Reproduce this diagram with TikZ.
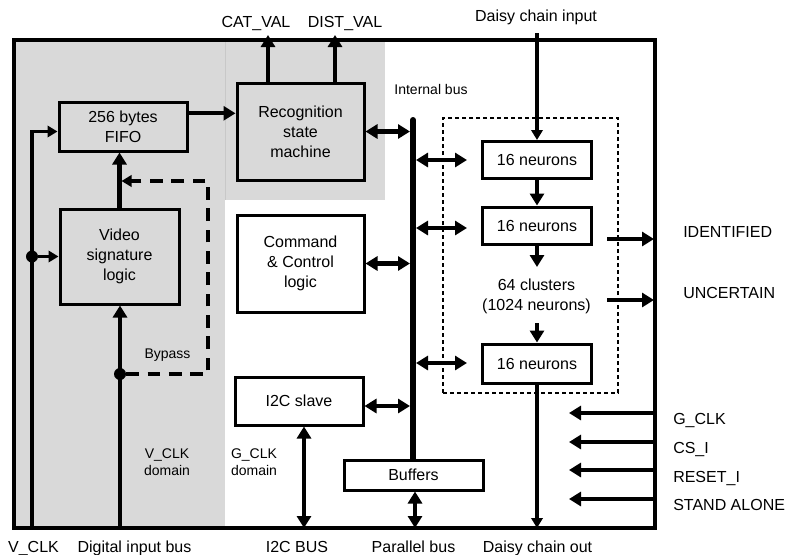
\documentclass[tikz,border=0pt]{standalone}
\usepackage{fontspec}
\setmainfont{Liberation Sans}
\usetikzlibrary{arrows.meta}
\definecolor{dgray}{RGB}{217,217,217}
\definecolor{seam}{RGB}{200,200,200}
\begin{document}
\begin{tikzpicture}[x=0.75pt,y=-0.75pt,
  box/.style={draw, line width=2.25pt, align=center, inner sep=0pt, font=\fontsize{12}{15}\selectfont},
  lbl/.style={font=\fontsize{12}{15}\selectfont, inner sep=0pt, align=center},
  small/.style={font=\fontsize{10.5}{12.75}\selectfont, inner sep=0pt, align=center},
  arr/.style={line width=3.2pt, -{Triangle[width=10.5pt,length=9pt]}},
  biarr/.style={line width=3.2pt, {Triangle[width=10.5pt,length=9pt]}-{Triangle[width=10.5pt,length=9pt]}},
  thinarr/.style={line width=2.4pt, -{Triangle[width=8.5pt,length=7.5pt]}},
  dotnode/.style={circle, fill, inner sep=0pt, minimum size=9pt},
  bypassline/.style={line width=2.4pt, dash pattern=on 9.5pt off 6.5pt, -{Triangle[width=8.5pt,length=7.5pt]}},
]
\useasboundingbox (0,0) rectangle (789,554);

% shaded clock domains
\fill[dgray] (14,40) rectangle (225,528);
\fill[dgray] (225,40) rectangle (385,200);
\draw[seam, line width=0.5pt] (225,40) -- (225,200);

% chip outline
\node[draw, line width=2.4pt, inner sep=0pt, minimum width=480.75pt, minimum height=366pt] (chip) at (334.5,284) {};

% cluster area
\node[draw, line width=1.1pt, dash pattern=on 3pt off 2.25pt, inner sep=0pt, minimum width=131.25pt, minimum height=206.25pt] (cluster) at (530.5,255.5) {};

% blocks
\node[box, minimum width=96pt, minimum height=36.75pt] (fifo) at (123,126.5) {256 bytes\\FIFO};
\node[box, minimum width=95.25pt, minimum height=72.75pt] (rec) at (300.5,131.5) {Recognition\\state\\machine};
\node[box, minimum width=89.25pt, minimum height=71.25pt] (video) at (119.5,256.5) {Video\\signature\\logic};
\node[box, minimum width=95.25pt, minimum height=72.75pt] (cc) at (300.5,263.5) {Command\\\& Control\\logic};
\node[box, minimum width=96pt, minimum height=36pt] (i2c) at (299,401) {I2C slave};
\node[box, minimum width=81.75pt, minimum height=27.75pt] (n1) at (537,160) {16 neurons};
\node[box, minimum width=81.75pt, minimum height=27.75pt] (n2) at (537,225.5) {16 neurons};
\node[box, minimum width=81.75pt, minimum height=29.25pt] (n3) at (537,363.5) {16 neurons};

% internal bus
\coordinate (bustop) at (413,120);
\coordinate (busbot) at (413,462);
\draw[line width=4.5pt, line cap=round] (bustop) -- (busbot);
\node[box, fill=white, minimum width=104.25pt, minimum height=22.5pt] (buf) at (413.5,475) {Buffers};

% labels
\node[lbl, anchor=base] (catl) at (256,27) {CAT\_VAL};
\node[lbl, anchor=base] (distl) at (345,27) {DIST\_VAL};
\node[lbl, anchor=base] (dcinl) at (536,21.5) {Daisy chain input};
\node[small, anchor=base] (ibusl) at (431,94) {Internal bus};
\node[small, anchor=base] (bypl) at (167.5,358) {Bypass};
\node[small] (vdom) at (167,462.5) {V\_CLK\\domain};
\node[small] (gdom) at (254,462.5) {G\_CLK\\domain};
\node[lbl] (clus) at (536.5,296.5) {64 clusters\\(1024 neurons)};
\node[lbl, anchor=base west] (identl) at (683,237) {IDENTIFIED};
\node[lbl, anchor=base west] (uncl) at (683,298) {UNCERTAIN};
\node[lbl, anchor=base west] (gclkl) at (673,424) {G\_CLK};
\node[lbl, anchor=base west] (csl) at (673,453) {CS\_I};
\node[lbl, anchor=base west] (rstl) at (673,482) {RESET\_I};
\node[lbl, anchor=base west] (standl) at (673,510.5) {STAND ALONE};
\node[lbl, anchor=base] (vclkl) at (33.5,552) {V\_CLK};
\node[lbl, anchor=base] (dibl) at (134.5,552) {Digital input bus};
\node[lbl, anchor=base] (i2cl) at (297,552) {I2C BUS};
\node[lbl, anchor=base] (pbl) at (413.5,552) {Parallel bus};
\node[lbl, anchor=base] (dcol) at (537.5,552) {Daisy chain out};

% V_CLK distribution
\coordinate (vclk) at (32,528);
\coordinate (v2f) at ([yshift=-3.75pt]fifo.west);
\draw[thinarr] (vclk) |- (v2f);
\node[dotnode] (vdot) at (vclk |- video.west) {};
\draw[thinarr] (vdot) -- (video.west);

% digital input bus and bypass
\coordinate (dib) at (120,528);
\draw[line width=2.6pt, -{Triangle[width=10.5pt,length=9pt]}] (dib) -- (dib |- video.south);
\draw[arr] (video.north) -- (video.north |- fifo.south);
\node[dotnode] (bdot) at (120,374) {};
\coordinate (bcorner) at (208,181);
\coordinate (bend) at (121.5,181);
\draw[bypassline] (bdot) -| (bcorner) -- (bend);

% FIFO to recognition
\coordinate (f2r) at ([yshift=9.9pt]fifo.east);
\draw[arr] (f2r) -- (f2r -| rec.west);

% recognition outputs
\coordinate (catend) at (268,35);
\coordinate (distend) at (335,35);
\draw[arr] (rec.north -| catend) -- (catend);
\draw[arr] (rec.north -| distend) -- (distend);

% blocks to bus
\draw[biarr, shorten >=2.25pt] (rec.east) -- (rec.east -| bustop);
\draw[biarr, shorten >=2.25pt] (cc.east) -- (cc.east -| bustop);
\coordinate (i2cb) at ([yshift=-3.75pt]i2c.east);
\draw[biarr, shorten >=2.25pt] (i2cb) -- (i2cb -| bustop);

% bus to neuron clusters
\coordinate (na1) at (467,160);
\coordinate (na2) at (467,228);
\coordinate (na3) at (467,363);
\draw[biarr, shorten <=2.25pt] (na1 -| bustop) -- (na1);
\draw[biarr, shorten <=2.25pt] (na2 -| bustop) -- (na2);
\draw[biarr, shorten <=2.25pt] (na3 -| bustop) -- (na3);

% daisy chain
\coordinate (dcin) at (537,33);
\draw[thinarr] (dcin) -- (n1.north);
\draw[arr] (n1.south) -- (n2.north);
\coordinate (c2end) at (537,267);
\draw[arr] (n2.south) -- (c2end);
\coordinate (c3start) at (537,323);
\draw[arr] (c3start) -- (n3.north);
\coordinate (dco) at (537,528);
\draw[thinarr] (n3.south) -- (dco);

% outputs
\coordinate (ids) at (607,239);
\coordinate (ide) at (654,239);
\coordinate (uns) at (607,300);
\coordinate (une) at (654,300);
\draw[arr] (ids) -- (ide);
\draw[arr] (uns) -- (une);

% control inputs
\coordinate (g1s) at (655,413); \coordinate (g1e) at (569,413);
\coordinate (g2s) at (655,442); \coordinate (g2e) at (569,442);
\coordinate (g3s) at (655,470); \coordinate (g3e) at (569,470);
\coordinate (g4s) at (655,499); \coordinate (g4e) at (569,499);
\draw[arr] (g1s) -- (g1e);
\draw[arr] (g2s) -- (g2e);
\draw[arr] (g3s) -- (g3e);
\draw[arr] (g4s) -- (g4e);

% external buses
\coordinate (i2cbus) at (304,528);
\draw[biarr] (i2c.south -| i2cbus) -- (i2cbus);
\coordinate (pbus) at (415,528);
\draw[biarr] (buf.south -| pbus) -- (pbus);
\end{tikzpicture}
\end{document}
